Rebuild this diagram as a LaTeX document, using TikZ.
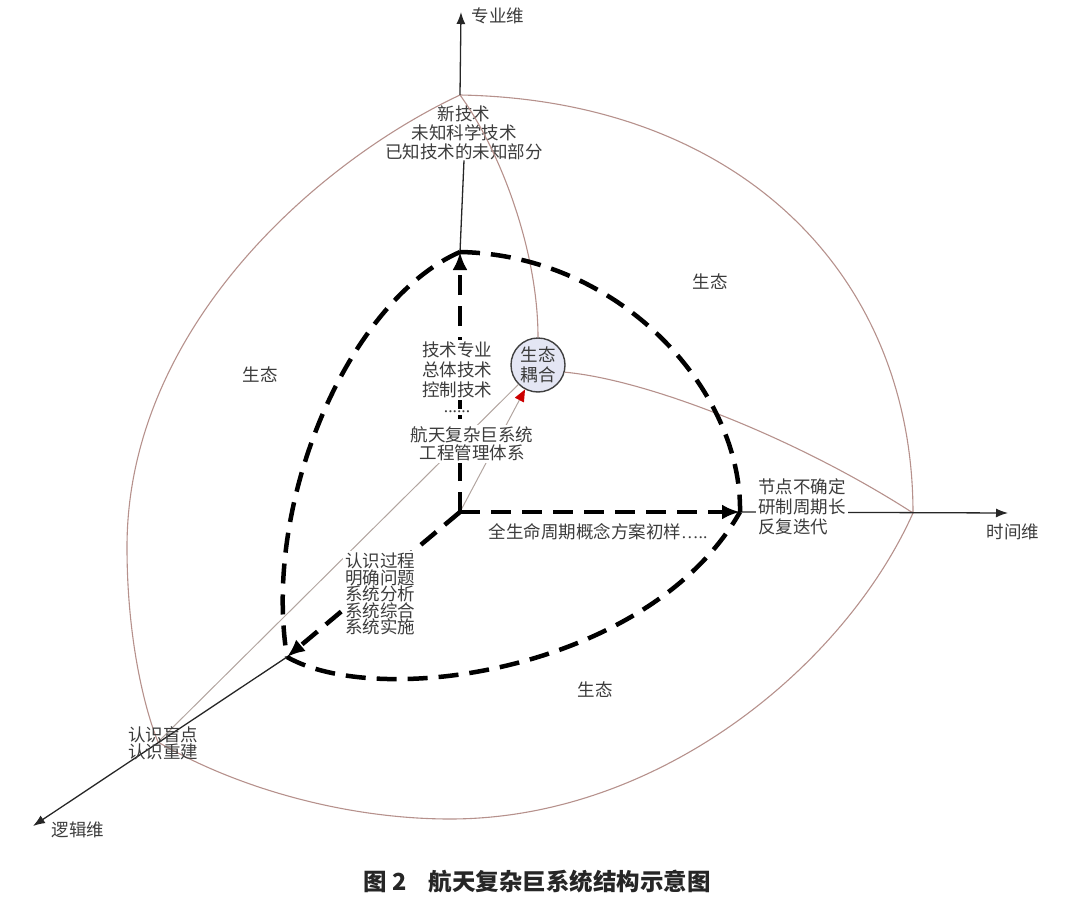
\documentclass[tikz,border=0pt]{standalone}
\usepackage{fontspec}
\setmainfont{Noto Sans CJK SC}
\newfontfamily\lat{Liberation Serif}
\usetikzlibrary{arrows.meta}
\definecolor{arcbrown}{RGB}{182,145,140}
\definecolor{linegray}{RGB}{178,165,160}
\definecolor{txt}{RGB}{60,60,60}
\definecolor{nodefill}{RGB}{228,230,244}
\begin{document}
\begin{tikzpicture}[x=1pt,y=-1pt,
  outer/.style={draw=arcbrown, line width=1.1pt},
  thinlink/.style={draw=linegray, line width=1pt},
  axisarrow/.style={draw=black!85, line width=1.3pt, -{Latex[length=12pt,width=9pt]}},
  axisline/.style={draw=black!85, line width=1.3pt},
  bigdash/.style={draw=black, line width=4.5pt, dash pattern=on 20pt off 11pt},
  bigarrow/.style={bigdash, -{Latex[length=18pt,width=15pt]}},
  lbl/.style={text=txt, font=\fontsize{17.5}{20}\selectfont, inner sep=0pt},
  whitelbl/.style={lbl, fill=white, inner sep=2pt},
]
\useasboundingbox (0,0) rectangle (1080,910);
% key points
\coordinate (O) at (460,512);
\coordinate (Ti) at (460,252);
\coordinate (Ri) at (740,512);
\coordinate (Li) at (287,657);
\coordinate (T) at (460,95);
\coordinate (R) at (913,513);
\coordinate (L) at (158,742);
\coordinate (topEnd) at (461,12);
\coordinate (timeEnd) at (1008,513);
\coordinate (logicEnd) at (33,826);

% outer sphere arcs
\draw[outer] (T) .. controls (315,163) and (127,330) .. (127,547)
                 .. controls (127,640) and (145,710) .. (L);
\draw[outer] (T) .. controls (740,100) and (913,275) .. (R);
\draw[outer] (L) .. controls (240,790) and (350,819) .. (450,819)
                 .. controls (660,819) and (845,665) .. (R);

% top text
\node[lbl, align=center, font=\fontsize{17.5}{19}\selectfont] (toptext) at (464,133) {新技术\\未知科学技术\\已知技术的未知部分};

% coupling node
\node[circle, draw=black!75, line width=1.4pt, fill=nodefill, minimum size=54pt, inner sep=0pt, text=txt, align=center, font=\fontsize{17.5}{20}\selectfont] (gc) at (538,365) {生态\\耦合};

% thin links
\draw[outer] (T) .. controls (500,150) and (538,250) .. (gc.north);
\draw[outer] (gc.-15) .. controls (650,380) and (800,440) .. (R);
\draw[thinlink] (L) -- (gc);
\draw[thinlink, -{Triangle[color=red!80!black, length=12pt, width=10pt]}] (O) -- (gc);

% axes
\draw[axisarrow] (T) -- (topEnd);
\draw[axisline] (Ti) -- (toptext.south);
\draw[axisarrow] (Ri) -- (timeEnd);
\draw[axisarrow] (Li) -- (logicEnd);

% inner dashed sphere
\draw[bigdash] (Ti) .. controls (350,300) and (262,500) .. (Li);
\draw[bigdash] (Ti) .. controls (620,255) and (742,390) .. (Ri);
\draw[bigdash] (Li) .. controls (380,710) and (650,670) .. (Ri);
\draw[bigarrow] (O) -- (Ti);
\draw[bigarrow] (O) -- (Ri);
\draw[bigarrow] (O) -- (Li);

% text blocks with white ground
\node[whitelbl, align=center, font=\fontsize{17.5}{20}\selectfont] (tech) at (457,370) {技术专业\\总体技术\\控制技术};
\node[whitelbl, font=\fontsize{17.5}{20}\selectfont] (dots) at (457,412) {\lat ......};
\node[whitelbl, align=center, font=\fontsize{17.5}{18}\selectfont] (mgmt) at (472,444) {航天复杂巨系统\\工程管理体系};
\node[whitelbl, align=left, anchor=north west, font=\fontsize{17.5}{16.5}\selectfont] (proc) at (343,551) {认识过程\\明确问题\\系统分析\\系统综合\\系统实施};
\node[whitelbl, align=left, anchor=north west, font=\fontsize{17.5}{20}\selectfont] (timetext) at (756,476) {节点不确定\\研制周期长\\反复迭代};
\node[lbl] (life) at (598,532) {全生命周期概念方案初样{\lat …..}};
\node[lbl, align=left, anchor=north west, font=\fontsize{17.5}{17}\selectfont] (blind) at (128,726) {认识盲点\\认识重建};

% eco labels
\node[lbl] (eco1) at (260,375) {生态};
\node[lbl] (eco2) at (710,282) {生态};
\node[lbl] (eco3) at (595,690) {生态};

% axis labels
\node[lbl] (zy) at (498,16) {专业维};
\node[lbl] (sj) at (1013,532) {时间维};
\node[lbl] (lj) at (78,830) {逻辑维};

% caption
\node[font=\fontsize{23.5}{26}\selectfont\bfseries, text=black!85, inner sep=0pt] (cap) at (537,882) {图 2\hspace{22pt}航天复杂巨系统结构示意图};
\end{tikzpicture}
\end{document}
